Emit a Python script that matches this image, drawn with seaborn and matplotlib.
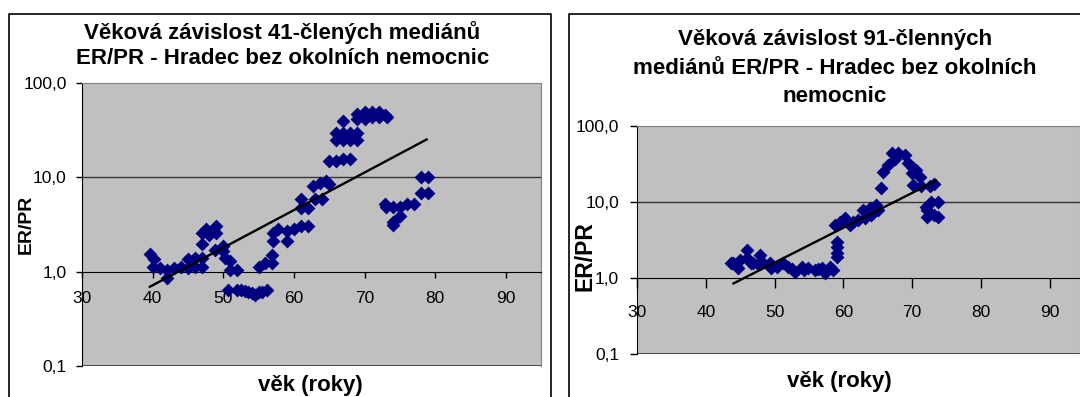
import matplotlib
matplotlib.use("Agg")
import matplotlib.pyplot as plt
from matplotlib.lines import Line2D
import seaborn as sns
import pandas as pd

# ---------------- data ----------------
left_age = [39.6, 40.2, 40.1, 41, 42, 42, 43, 44, 45, 45, 46, 46, 47, 47, 47, 47, 47.6, 48,
            49, 49, 48.8, 50, 50, 50.2, 51, 51, 52,
            50.7, 51.9, 52.5, 53.1, 53.5, 54, 54.5, 55, 55.5, 56.2,
            55, 55.9, 56.9, 56.9, 57.1, 57, 57.8, 59, 59, 60, 61, 62, 61, 61, 62, 63, 62.7,
            64, 63.7, 64.6, 65, 65, 66, 67, 68, 66, 66, 67, 67, 67, 68, 68, 69, 69, 69,
            68.9, 70, 70, 71, 72, 72.9, 73.2, 71, 72,
            72.9, 73, 74, 74, 74, 75, 75, 76, 77, 78, 79, 78, 79]
left_val = [1.55, 1.36, 1.11, 1.09, 1.04, 0.85, 1.09, 1.11, 1.36, 1.09, 1.39, 1.11, 1.39, 1.13, 1.98, 2.58, 2.8, 2.47,
            3.03, 2.58, 1.71, 1.85, 1.64, 1.39, 1.28, 1.04, 1.04,
            0.64, 0.64, 0.63, 0.62, 0.60, 0.59, 0.57, 0.61, 0.61, 0.63,
            1.13, 1.23, 1.23, 1.51, 2.1, 2.58, 2.8, 2.1, 2.68, 2.8, 3.03, 3.03, 5.86, 4.78, 4.78, 5.86, 8.1,
            5.86, 8.8, 9.2, 8.5, 15, 15, 15.6, 15.6, 25, 29.5, 25, 29.5, 39.7, 25, 29.5, 25, 29.5, 41.9,
            47.6, 49, 42, 49, 49, 45.6, 44, 44, 44,
            5.2, 4.8, 4.8, 3.4, 3.16, 3.88, 4.8, 5.2, 5.2, 6.9, 6.9, 10, 10]
left_trend_age = [39.6, 78.8]
left_trend_val = [0.69, 25.3]

right_age = [43.6, 44, 44.7, 45, 45.9, 46, 46.5, 46.9, 47.8, 48.2, 47.5, 49.3, 49.5, 50.3, 51.2, 52,
             52.5, 52.9, 53.9, 54.3, 54.9, 55.8, 56.3, 56.9, 57.3, 58, 58.5, 59, 59, 59, 59,
             58.8, 59.5, 60.2, 60.9, 61.4, 62.1, 62.9, 63.1, 63.8, 64, 64.8, 65, 65.5, 65.7, 66.5,
             67, 67.5, 67.9, 68.9, 69.4, 69.9, 70.1, 70.1, 70.6, 71.1, 71.3, 72.6, 73.1,
             72.1, 72.1, 72, 72.8, 73.2, 73.8, 73.8]
right_val = [1.55, 1.55, 1.33, 1.71, 2.31, 1.8, 1.55, 1.55, 1.99, 1.63, 1.5, 1.55, 1.33, 1.4, 1.55, 1.4,
             1.3, 1.2, 1.4, 1.28, 1.33, 1.26, 1.3, 1.33, 1.14, 1.4, 1.25, 1.85, 2.09, 2.56, 2.97,
             4.9, 5.45, 6.04, 4.9, 5.45, 5.75, 7.8, 6.04, 8.2, 6.7, 9.0, 7.8, 15, 24.8, 30.4,
             43.4, 37, 43.4, 41, 32, 23.6, 27.5, 16.6, 26, 21.3, 16, 16, 17,
             7.8, 6.3, 8.5, 10, 6.7, 10, 6.3]
right_trend_age = [44.0, 73.5]
right_trend_val = [0.84, 18.9]

x_ticks = [30, 40, 50, 60, 70, 80, 90]
y_ticks = [0.1, 1, 10, 100]
y_tick_labels = ["0,1", "1,0", "10,0", "100,0"]

left_title = "Věková závislost 41-člených mediánů\nER/PR - Hradec bez okolních nemocnic"
right_title = "Věková závislost 91-členných\nmediánů ER/PR - Hradec bez okolních\nnemocnic"
x_label = "věk (roky)"
y_label = "ER/PR"

# ---------------- figure ----------------
W, H = 1080, 397
fig = plt.figure(figsize=(W / 100, H / 100), dpi=100)
plt.rcParams["font.family"] = ["Liberation Sans", "DejaVu Sans"]
FAM = "Liberation Sans"


def px_axes(x0, x1, ytop, ybot):
    return fig.add_axes([x0 / W, 1 - ybot / H, (x1 - x0) / W, (ybot - ytop) / H])


ax1 = px_axes(82.1, 541, 83.3, 365.7)
ax2 = px_axes(637.2, 1080, 125.7, 353.7)

NAVY = "#000080"


def style(ax, df, tdf, xmax, tick_fs, xtick_len, ytick_len, xpad, ypad):
    ax.set_facecolor("#C0C0C0")
    sns.scatterplot(data=df, x="age", y="val", ax=ax, marker="D", s=50, color=NAVY,
                    edgecolor=NAVY, linewidth=0, zorder=3, legend=False)
    sns.lineplot(data=tdf, x="age", y="val", ax=ax, color="black", lw=1.7, zorder=4)
    ax.set_yscale("log")
    ax.spines["bottom"].set_position(("data", 1))
    ax.set_ylim(0.1, 100)
    ax.set_xlim(30, xmax)
    ax.yaxis.set_minor_locator(matplotlib.ticker.NullLocator())
    ax.set_yticks(y_ticks)
    ax.set_yticklabels(y_tick_labels, family=FAM, fontsize=tick_fs)
    ax.set_xticks(x_ticks)
    ax.set_xticklabels([str(t) for t in x_ticks], family=FAM, fontsize=tick_fs)
    ax.spines["bottom"].set_color("black")
    ax.spines["left"].set_color("black")
    for s in ("top", "right"):
        ax.spines[s].set_color("#808080")
    ax.axhline(10, color="#333333", lw=1, zorder=1)
    ax.axhline(0.1, color="#333333", lw=1.2, zorder=1)
    ax.tick_params(axis="x", direction="out", length=xtick_len, pad=xpad, width=1)
    ax.tick_params(axis="y", direction="out", length=ytick_len, pad=ypad, width=1)
    ax.set_xlabel("")
    ax.set_ylabel("")


df1 = pd.DataFrame({"age": left_age, "val": left_val})
t1 = pd.DataFrame({"age": left_trend_age, "val": left_trend_val})
df2 = pd.DataFrame({"age": right_age, "val": right_val})
t2 = pd.DataFrame({"age": right_trend_age, "val": right_trend_val})

style(ax1, df1, t1, 95.0, 12.5, 4, 4, 10, 7)
style(ax2, df2, t2, 94.4, 12.5, 7, 5, 13, 8)

# chart frames
fig.add_artist(Line2D([8.5 / W, 8.5 / W, 551 / W, 551 / W], [0, 1 - 13.8 / H, 1 - 13.8 / H, 0],
                      color="black", lw=1.2, transform=fig.transFigure))
fig.add_artist(Line2D([569 / W, 569 / W, 1.01], [0, 1 - 14 / H, 1 - 14 / H],
                      color="black", lw=1.2, transform=fig.transFigure))

# titles
fig.text(282.5 / W, 1 - 45.5 / H, left_title, ha="center", va="center", fontsize=16,
         fontweight="bold", family=FAM, linespacing=1.25)
fig.text(835 / W, 1 - 68 / H, right_title, ha="center", va="center", fontsize=16.1,
         fontweight="bold", family=FAM, linespacing=1.45)

# axis labels
fig.text(310 / W, 1 - 386 / H, x_label, ha="center", va="center", fontsize=16,
         fontweight="bold", family=FAM)
fig.text(26.5 / W, 1 - 224 / H, y_label, ha="center", va="center", fontsize=14,
         fontweight="bold", rotation=90, family=FAM)
fig.text(839 / W, 1 - 381 / H, x_label, ha="center", va="center", fontsize=16,
         fontweight="bold", family=FAM)
fig.text(585 / W, 1 - 256 / H, y_label, ha="center", va="center", fontsize=16.5,
         fontweight="bold", rotation=90, family=FAM)

fig.savefig("out.png", dpi=100, facecolor="white")
